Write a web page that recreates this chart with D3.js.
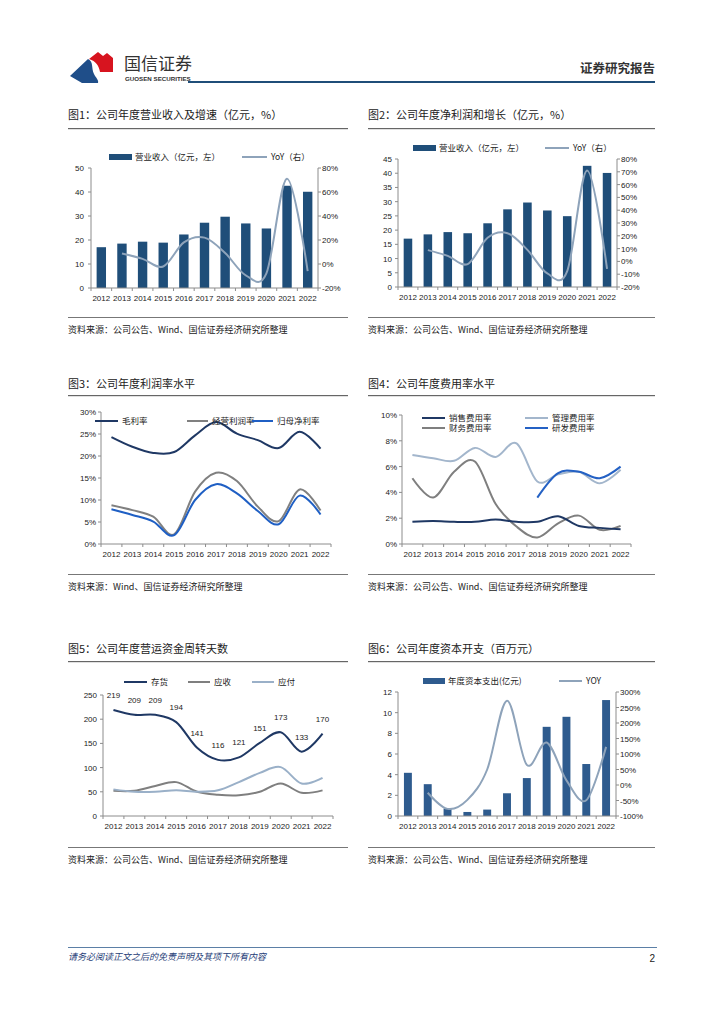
<!DOCTYPE html>
<html><head><meta charset="utf-8">
<script src="https://cdn.jsdelivr.net/npm/d3@7"></script>
<style>body{margin:0;background:#fff} svg{display:block}</style>
</head><body>
<svg id="page" width="724" height="1024"></svg>
<script>
// ---------- DATA ----------
const years = ['2012','2013','2014','2015','2016','2017','2018','2019','2020','2021','2022'];
// Fig 1
const revenue = [17.0, 18.5, 19.3, 18.9, 22.3, 27.2, 29.7, 26.9, 24.8, 42.6, 40.1];
const revenueYoY = [null, 8.8, 4.3, -2.1, 18.0, 22.0, 9.2, -9.4, -7.8, 71.0, -5.9];
// Fig 2
const profitBars = [17.0, 18.5, 19.3, 18.9, 22.4, 27.3, 29.7, 26.9, 24.9, 42.6, 40.1];
const profitYoY = [null, 8.8, 4.3, -2.1, 18.5, 22.0, 9.0, -9.4, -7.6, 71.0, -5.9];
// Fig 3
const grossMargin = [24.3, 22.1, 20.7, 20.9, 24.7, 27.7, 25.1, 23.6, 21.8, 25.5, 21.7];
const opMargin    = [8.8, 7.7, 6.2, 2.2, 11.9, 16.2, 14.3, 8.5, 5.2, 12.4, 7.6];
const netMargin   = [7.9, 6.6, 5.1, 2.0, 10.0, 13.6, 11.5, 7.5, 4.5, 11.0, 6.7];
// Fig 4
const salesRate = [1.73, 1.78, 1.72, 1.72, 1.9, 1.72, 1.72, 2.15, 1.4, 1.25, 1.15];
const adminRate = [6.9, 6.65, 6.45, 7.45, 6.75, 7.8, 4.85, 5.4, 5.6, 4.7, 5.75];
const finRate   = [5.1, 3.6, 5.6, 6.4, 3.1, 1.35, 0.5, 1.6, 2.2, 1.1, 1.4];
const rdRate    = [null, null, null, null, null, null, 3.6, 5.5, 5.6, 5.1, 6.0];
// Fig 5
const inventoryDays  = [219, 209, 209, 194, 141, 116, 121, 151, 173, 133, 170];
const receivableDays = [52, 52, 62, 70, 50, 44, 43, 50, 67, 48, 53];
const payableDays    = [55, 50, 50, 53, 50, 53, 70, 89, 101, 67, 79];
// Fig 6
const capex    = [4.18, 3.08, 0.71, 0.39, 0.62, 2.2, 3.67, 8.63, 9.6, 5.03, 11.22];
const capexYoY = [null, -25, -77, -48, 50, 272, 65, 137, 15, -49, 123];

// ---------- STYLE ----------
const FONT = '"Liberation Sans","Noto Sans CJK SC",sans-serif';
const CJK = '"Noto Sans CJK SC","Liberation Sans",sans-serif';
const AXIS = '#8c8c8c';
const TXT = '#222';
const svg = d3.select('#page');

// ---------- HEADER ----------
svg.append('path').attr('d','M70,76 L88,59 C94,62 91,68 94,74 C96,78 99,80 98,83 L82,83 Z').attr('fill','#1F4E89');
svg.append('path').attr('d','M89,59 L98,52 L103,56 L107,53 L113,58 L113,72 L100,72 C99,66 96,61 89,59 Z').attr('fill','#D7141F');
svg.append('text').attr('x',124).attr('y',70).attr('font-family',CJK).attr('font-size',17).attr('fill','#333').text('国信证券');
svg.append('text').attr('x',125).attr('y',81).attr('font-family',FONT).attr('font-size',6.2).attr('font-weight','bold').attr('fill','#333').text('GUOSEN SECURITIES');
svg.append('text').attr('x',655).attr('y',73).attr('text-anchor','end').attr('font-family',CJK).attr('font-size',12.5).attr('font-weight','bold').attr('fill','#333').text('证券研究报告');
svg.append('rect').attr('x',188).attr('y',81).attr('width',467).attr('height',2).attr('fill','#1F4E79');

// ---------- FOOTER ----------
svg.append('rect').attr('x',68).attr('y',947).attr('width',589).attr('height',1).attr('fill','#5B7FA6');
svg.append('text').attr('x',68).attr('y',960).attr('font-family',CJK).attr('font-size',9).attr('font-style','italic')
  .attr('fill','#1F3E78').text('请务必阅读正文之后的免责声明及其项下所有内容');
svg.append('text').attr('x',655).attr('y',962).attr('text-anchor','end').attr('font-family',FONT).attr('font-size',10).attr('fill','#222').text('2');

// ---------- HELPERS ----------
function titleBlock(x0, x1, y, lineY, text){
  svg.append('text').attr('x',x0).attr('y',y+4).attr('font-family',CJK).attr('font-size',11).attr('fill',TXT).text(text);
  svg.append('rect').attr('x',x0).attr('y',lineY).attr('width',x1-x0).attr('height',1.2).attr('fill','#666');
}
function sourceBlock(x0, x1, lineY, y, text){
  svg.append('rect').attr('x',x0).attr('y',lineY).attr('width',x1-x0).attr('height',1).attr('fill','#777');
  svg.append('text').attr('x',x0).attr('y',y+3.5).attr('font-family',CJK).attr('font-size',9).attr('fill',TXT).text(text);
}
function xAxis(g, x, y0){
  const [r0, r1] = x.range();
  const step = x.step();
  g.append('line').attr('x1',r0).attr('x2',r1).attr('y1',y0).attr('y2',y0).attr('stroke',AXIS).attr('stroke-width',1);
  d3.range(years.length+1).forEach(i=>{
    const xx = r0 + i*step;
    g.append('line').attr('x1',xx).attr('x2',xx).attr('y1',y0).attr('y2',y0+3).attr('stroke',AXIS);
  });
  g.selectAll(null).data(years).enter().append('text')
    .attr('x',d=>x(d)+x.bandwidth()/2).attr('y',y0+13)
    .attr('text-anchor','middle').attr('font-family',FONT).attr('font-size',8).attr('fill',TXT).text(d=>d);
}
function yAxis(g, y, xPos, ticks, fmt, side, gap){
  const [a,b] = y.range();
  g.append('line').attr('x1',xPos).attr('x2',xPos).attr('y1',a).attr('y2',b).attr('stroke',AXIS);
  const dir = side==='left' ? -1 : 1;
  ticks.forEach(t=>{
    g.append('line').attr('x1',xPos).attr('x2',xPos+dir*3).attr('y1',y(t)).attr('y2',y(t)).attr('stroke',AXIS);
    g.append('text').attr('x',xPos+dir*gap).attr('y',y(t)+3)
      .attr('text-anchor', side==='left'?'end':'start')
      .attr('font-family',FONT).attr('font-size',8).attr('fill',TXT).text(fmt(t));
  });
}
function lineSeries(g, x, y, data, color, width){
  const pts = years.map((d,i)=>({x:x(d)+x.bandwidth()/2, v:data[i]})).filter(p=>p.v!=null);
  const line = d3.line().x(p=>p.x).y(p=>y(p.v)).curve(d3.curveCatmullRom.alpha(0));
  g.append('path').attr('d',line(pts)).attr('fill','none').attr('stroke',color).attr('stroke-width',width||2).attr('stroke-linejoin','round');
}
function legendLine(g, x0, y0, color, label, len){
  g.append('line').attr('x1',x0).attr('x2',x0+(len||23)).attr('y1',y0).attr('y2',y0).attr('stroke',color).attr('stroke-width',2);
  g.append('text').attr('x',x0+(len||23)+4).attr('y',y0+3).attr('font-family',CJK).attr('font-size',8.5).attr('fill',TXT).text(label);
}
function legendBar(g, x0, y0, color, label, w){
  g.append('rect').attr('x',x0).attr('y',y0-3).attr('width',w||23).attr('height',6).attr('fill',color);
  g.append('text').attr('x',x0+(w||23)+3).attr('y',y0+3).attr('font-family',CJK).attr('font-size',8.5).attr('fill',TXT).text(label);
}
const pct = d=>d+'%';
const num = d=>String(d);

// ---------- FIG 1 ----------
(function(){
  const g = svg.append('g');
  titleBlock(68, 348, 115, 128, '图1：公司年度营业收入及增速（亿元，%）');
  const x = d3.scaleBand().domain(years).range([91,318]).paddingInner(0.545).paddingOuter(0.2725);
  const y = d3.scaleLinear().domain([0,50]).range([288,168]);
  const y2 = d3.scaleLinear().domain([-20,80]).range([288,168]);
  g.selectAll(null).data(years).enter().append('rect')
    .attr('x',d=>x(d)).attr('width',x.bandwidth())
    .attr('y',(d,i)=>y(revenue[i])).attr('height',(d,i)=>y(0)-y(revenue[i])).attr('fill','#1F4E79');
  lineSeries(g, x, y2, revenueYoY, '#8EA3BA', 2);
  yAxis(g, y, 91, d3.range(0,51,10), num, 'left', 7);
  yAxis(g, y2, 318, d3.range(-20,81,20), pct, 'right', 4);
  xAxis(g, x, 288);
  legendBar(g, 109, 157, '#1F4E79', '营业收入（亿元，左）');
  legendLine(g, 242, 157, '#8EA3BA', 'YoY（右）', 25);
  sourceBlock(68, 348, 317, 329, '资料来源：公司公告、Wind、国信证券经济研究所整理');
})();

// ---------- FIG 2 ----------
(function(){
  const g = svg.append('g');
  titleBlock(368, 655, 115, 128, '图2：公司年度净利润和增长（亿元，%）');
  const x = d3.scaleBand().domain(years).range([398,617]).paddingInner(0.57).paddingOuter(0.285);
  const y = d3.scaleLinear().domain([0,45]).range([287,159]);
  const y2 = d3.scaleLinear().domain([-20,80]).range([287,159]);
  g.selectAll(null).data(years).enter().append('rect')
    .attr('x',d=>x(d)).attr('width',x.bandwidth())
    .attr('y',(d,i)=>y(profitBars[i])).attr('height',(d,i)=>y(0)-y(profitBars[i])).attr('fill','#1F4E79');
  lineSeries(g, x, y2, profitYoY, '#8EA3BA', 2);
  yAxis(g, y, 398, d3.range(0,46,5), num, 'left', 6);
  yAxis(g, y2, 617, d3.range(-20,81,10), pct, 'right', 4);
  xAxis(g, x, 287);
  legendBar(g, 413, 148, '#1F4E79', '营业收入（亿元，左）');
  legendLine(g, 545, 148, '#8EA3BA', 'YoY（右）', 24);
  sourceBlock(368, 655, 317, 329, '资料来源：公司公告、Wind、国信证券经济研究所整理');
})();

// ---------- FIG 3 ----------
(function(){
  const g = svg.append('g');
  titleBlock(68, 348, 384, 395, '图3：公司年度利润率水平');
  const x = d3.scaleBand().domain(years).range([101,331]);
  const y = d3.scaleLinear().domain([0,30]).range([544,412]);
  yAxis(g, y, 101, d3.range(0,31,5), pct, 'left', 5);
  xAxis(g, x, 544);
  lineSeries(g, x, y, grossMargin, '#1F3864', 2);
  lineSeries(g, x, y, opMargin, '#808080', 2);
  lineSeries(g, x, y, netMargin, '#1F5FC4', 2);
  legendLine(g, 95, 421, '#1F3864', '毛利率');
  legendLine(g, 187, 421, '#808080', '经营利润率', 21);
  legendLine(g, 252, 421, '#1F5FC4', '归母净利率', 21);
  sourceBlock(68, 348, 574, 586, '资料来源：Wind、国信证券经济研究所整理');
})();

// ---------- FIG 4 ----------
(function(){
  const g = svg.append('g');
  titleBlock(368, 655, 384, 395, '图4：公司年度费用率水平');
  const x = d3.scaleBand().domain(years).range([402,631]);
  const y = d3.scaleLinear().domain([0,10]).range([544,415]);
  yAxis(g, y, 402, d3.range(0,11,2), pct, 'left', 5);
  xAxis(g, x, 544);
  lineSeries(g, x, y, adminRate, '#A3B6CC', 2);
  lineSeries(g, x, y, finRate, '#7F7F7F', 2);
  lineSeries(g, x, y, salesRate, '#1F3864', 2);
  lineSeries(g, x, y, rdRate, '#2461C4', 2);
  legendLine(g, 422, 418, '#1F3864', '销售费用率');
  legendLine(g, 525, 418, '#A3B6CC', '管理费用率');
  legendLine(g, 422, 428, '#7F7F7F', '财务费用率');
  legendLine(g, 525, 428, '#2461C4', '研发费用率');
  sourceBlock(368, 655, 574, 586, '资料来源：公司公告、Wind、国信证券经济研究所整理');
})();

// ---------- FIG 5 ----------
(function(){
  const g = svg.append('g');
  titleBlock(68, 348, 649, 661, '图5：公司年度营运资金周转天数');
  const x = d3.scaleBand().domain(years).range([103,333]);
  const y = d3.scaleLinear().domain([0,250]).range([816,695]);
  yAxis(g, y, 103, d3.range(0,251,50), num, 'left', 6);
  xAxis(g, x, 816);
  lineSeries(g, x, y, receivableDays, '#7F7F7F', 2);
  lineSeries(g, x, y, payableDays, '#9AB0C8', 2);
  lineSeries(g, x, y, inventoryDays, '#1F3864', 2);
  g.selectAll(null).data(years).enter().append('text')
    .attr('x',d=>x(d)+x.bandwidth()/2).attr('y',(d,i)=>y(inventoryDays[i])-12)
    .attr('text-anchor','middle').attr('font-family',FONT).attr('font-size',8).attr('fill',TXT)
    .text((d,i)=>inventoryDays[i]);
  legendLine(g, 124, 682, '#1F3864', '存货');
  legendLine(g, 188, 682, '#7F7F7F', '应收', 22);
  legendLine(g, 252, 682, '#9AB0C8', '应付', 22);
  sourceBlock(68, 348, 847, 859, '资料来源：公司公告、Wind、国信证券经济研究所整理');
})();

// ---------- FIG 6 ----------
(function(){
  const g = svg.append('g');
  titleBlock(368, 655, 649, 661, '图6：公司年度资本开支（百万元）');
  const x = d3.scaleBand().domain(years).range([398,616]).paddingInner(0.6).paddingOuter(0.3);
  const y = d3.scaleLinear().domain([0,12]).range([816,692]);
  const y2 = d3.scaleLinear().domain([-100,300]).range([816,692]);
  g.selectAll(null).data(years).enter().append('rect')
    .attr('x',d=>x(d)).attr('width',x.bandwidth())
    .attr('y',(d,i)=>y(capex[i])).attr('height',(d,i)=>y(0)-y(capex[i])).attr('fill','#2E5B8E');
  lineSeries(g, x, y2, capexYoY, '#8EA3BA', 2);
  yAxis(g, y, 398, d3.range(0,13,2), num, 'left', 6);
  yAxis(g, y2, 616, d3.range(-100,301,50), pct, 'right', 4);
  xAxis(g, x, 816);
  legendBar(g, 423, 681, '#2E5B8E', '年度资本支出(亿元)', 22);
  legendLine(g, 559, 681, '#8EA3BA', 'YOY', 23);
  sourceBlock(368, 655, 847, 859, '资料来源：公司公告、Wind、国信证券经济研究所整理');
})();
</script>
</body></html>
